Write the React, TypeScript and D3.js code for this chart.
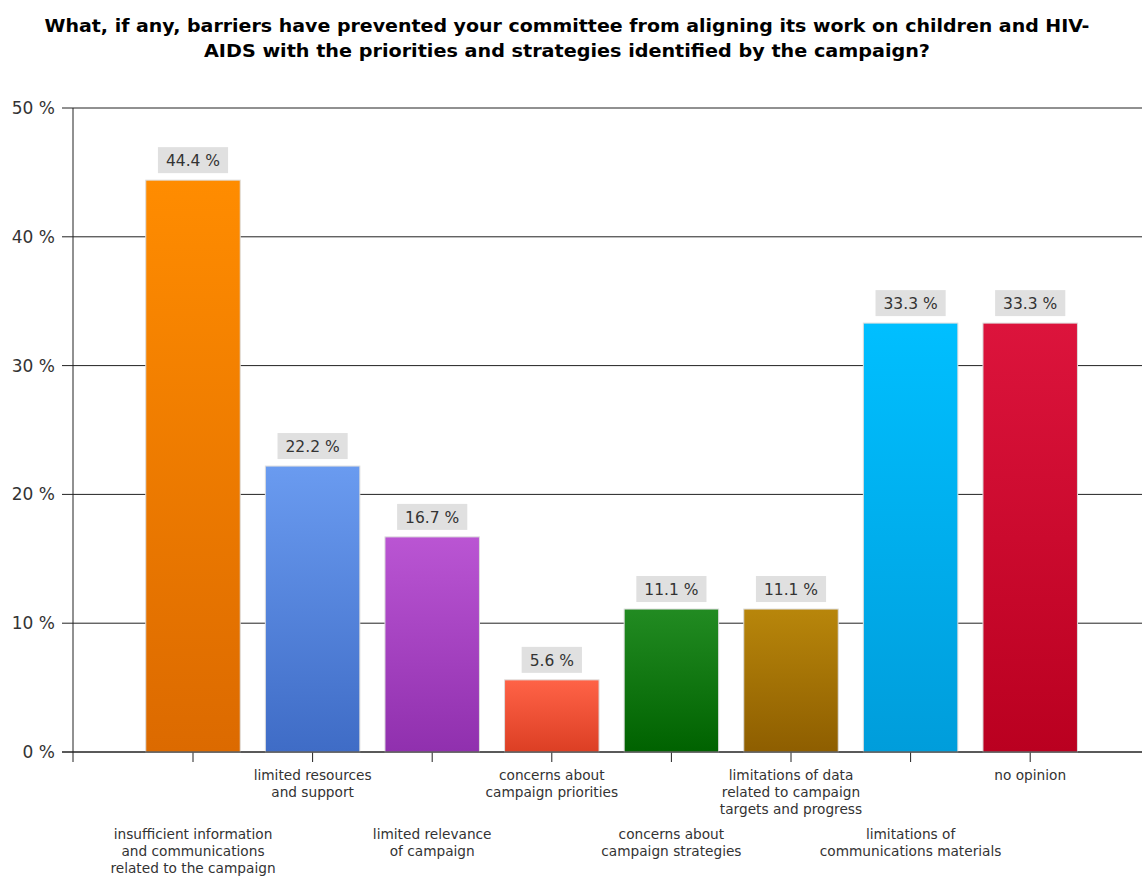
import React from "react";
import * as d3 from "d3";

const categories: string[][] = [
  ["insufficient information", "and communications", "related to the campaign"],
  ["limited resources", "and support"],
  ["limited relevance", "of campaign"],
  ["concerns about", "campaign priorities"],
  ["concerns about", "campaign strategies"],
  ["limitations of data", "related to campaign", "targets and progress"],
  ["limitations of", "communications materials"],
  ["no opinion"],
];
const values: number[] = [44.4, 22.2, 16.7, 5.6, 11.1, 11.1, 33.3, 33.3];
const topColors: string[] = ["#FF8C00", "#6A9BF0", "#BA55D3", "#FF6347", "#228B22", "#B8860B", "#00BFFF", "#DC143C"];
const bottomColors: string[] = ["#DC6A00", "#3F6CC6", "#9030AE", "#DC3F24", "#006200", "#8E5E00", "#009DDB", "#BA0020"];
const yTicks: number[] = [0, 10, 20, 30, 40, 50];
const title: string[] = [
  "What, if any, barriers have prevented your committee from aligning its work on children and HIV-",
  "AIDS with the priorities and strategies identified by the campaign?",
];
const titleWidths: number[] = [1045, 726];

const W = 1142;
const H = 877;
const axisX = 73;
const y0 = 752;
const y50 = 108;
const step = 119.6;
const firstCenter = 193;

function measure(text: string, font: string): number {
  const c = document.createElement("canvas").getContext("2d");
  if (!c) return text.length * 8;
  c.font = font;
  return c.measureText(text).width;
}

export default function App() {
  const idx = values.map((_, i) => String(i));
  const x = d3
    .scaleBand<string>()
    .domain(idx)
    .range([firstCenter - step / 2, firstCenter - step / 2 + step * 8])
    .paddingInner(0.21)
    .paddingOuter(0.105);
  const xc = (i: number) => (x(String(i)) as number) + x.bandwidth() / 2;
  const y = d3.scaleLinear().domain([0, 50]).range([y0, y50]);
  const font = "DejaVu Sans, Verdana, sans-serif";
  const valFont = `15.5px ${font}`;

  return (
    <svg width={W} height={H} style={{ position: "absolute", left: 0, top: 0, background: "#fff" }} fontFamily={font}>
      <defs>
        {values.map((_, i) => (
          <linearGradient key={i} id={`g${i}`} x1="0" y1="0" x2="0" y2="1">
            <stop offset="0" stopColor={topColors[i]} />
            <stop offset="1" stopColor={bottomColors[i]} />
          </linearGradient>
        ))}
      </defs>
      {title.map((t, i) => (
        <text
          key={i}
          x={567}
          y={32 + i * 25}
          textAnchor="middle"
          fontWeight="bold"
          fontSize={18.5}
          fill="#000"
          textLength={titleWidths[i]}
          lengthAdjust="spacingAndGlyphs"
        >
          {t}
        </text>
      ))}
      {yTicks.map((t) => (
        <g key={t}>
          <line x1={62} x2={W} y1={y(t)} y2={y(t)} stroke="#222" strokeWidth={1} />
          <text x={55} y={y(t) + 6} textAnchor="end" fontSize={17} fill="#333">
            {t} %
          </text>
        </g>
      ))}
      <line x1={axisX} x2={axisX} y1={y50} y2={y0 + 10} stroke="#222" />
      {values.map((v, i) => {
        const cx = xc(i);
        const label = `${v.toFixed(1)} %`;
        const bw = measure(label, valFont) + 16;
        const top = y(v);
        return (
          <g key={i}>
            <line x1={cx} x2={cx} y1={y0} y2={y0 + 10} stroke="#222" />
            <rect x={x(String(i))} y={top} width={x.bandwidth()} height={y0 - top} fill={`url(#g${i})`} stroke="#ddd" strokeWidth={1} />
            <rect x={cx - bw / 2} y={top - 33} width={bw} height={26} fill="#e0e0e0" />
            <text x={cx} y={top - 14} textAnchor="middle" fontSize={15.5} fill="#333">
              {label}
            </text>
            {categories[i].map((ln, j) => (
              <text key={j} x={cx} y={(i % 2 === 1 ? 780 : 839) + j * 17} textAnchor="middle" fontSize={13.7} fill="#333">
                {ln}
              </text>
            ))}
          </g>
        );
      })}
      <line x1={62} x2={W} y1={y0} y2={y0} stroke="#222" />
    </svg>
  );
}
